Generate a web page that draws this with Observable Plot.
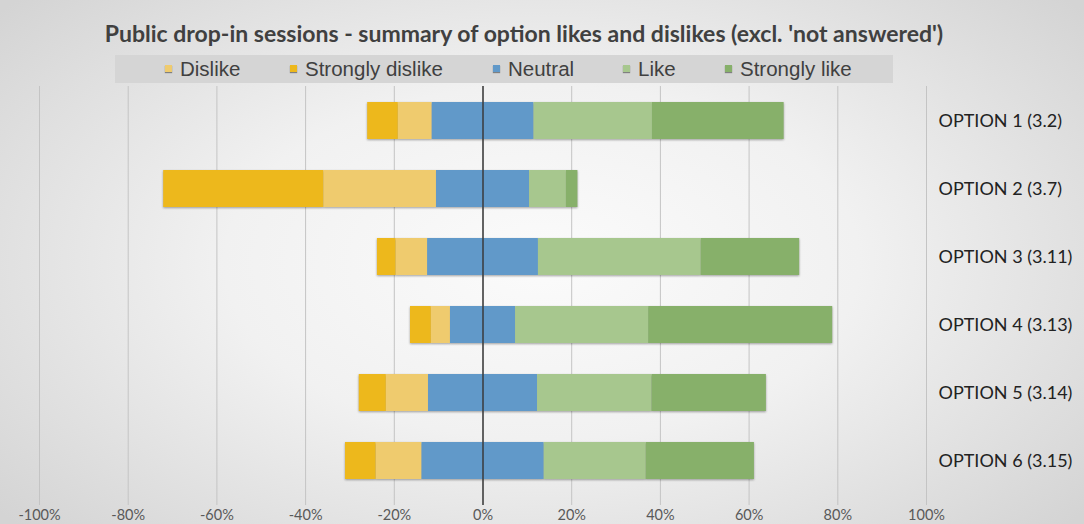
<!DOCTYPE html>
<html>
<head>
<meta charset="utf-8">
<script src="https://cdn.jsdelivr.net/npm/d3@7"></script>
<script src="https://cdn.jsdelivr.net/npm/@observablehq/plot@0.6"></script>
<style>
  html, body { margin: 0; padding: 0; }
  body {
    width: 1084px; height: 524px; position: relative; overflow: hidden;
    background: radial-gradient(ellipse 65% 75% at 50% 50%, #fbfbfb 0%, #f1f1f1 45%, #d4d4d4 100%);
    font-family: "Liberation Sans", Arial, sans-serif;
  }
  #title {
    position: absolute; left: 0; top: 19px; width: 1048px; text-align: center;
    font-family: Lato, "Open Sans", sans-serif; font-weight: bold; font-size: 23px; color: #404040;
    white-space: nowrap;
  }
  #legend {
    position: absolute; left: 115px; top: 55px; width: 778px; height: 28px;
    background: #d5d5d5;
  }
  .item { position: absolute; top: 2px; height: 24px; line-height: 24px; font-family: "Liberation Sans Narrow", "Arial Narrow", sans-serif; font-size: 20.5px; color: #404040; white-space: nowrap; }
  .sw { position: absolute; left: 0; top: 8px; width: 7px; height: 7px; box-shadow: 0 1px 1px rgba(0,0,0,0.4); }
  .lab { position: absolute; left: 15px; top: 0; }
  #chart { position: absolute; left: 0; top: 86px; }
</style>
</head>
<body>
<div id="title"></div>
<div id="legend"></div>
<div id="chart"></div>
<script>
const titleText = "Public drop-in sessions - summary of option likes and dislikes (excl. 'not answered')";
const options = ["OPTION 1 (3.2)", "OPTION 2 (3.7)", "OPTION 3 (3.11)", "OPTION 4 (3.13)", "OPTION 5 (3.14)", "OPTION 6 (3.15)"];
const categories = ["Dislike", "Strongly dislike", "Neutral", "Like", "Strongly like"];
const colors = ["#efcb6e", "#edb81c", "#6199c9", "#a7c78e", "#87b06a"];
const stronglyDislike = [6.9, 36.1, 4.2, 4.7, 6.1, 6.9];
const dislike         = [7.6, 25.4, 7.1, 4.3, 9.5, 10.3];
const neutral         = [23.0, 21.0, 25.0, 14.7, 24.6, 27.6];
const like            = [26.7, 8.3, 36.7, 30.0, 25.8, 23.0];
const stronglyLike    = [29.7, 2.6, 22.2, 41.5, 25.8, 24.4];
const ticks = [-100, -80, -60, -40, -20, 0, 20, 40, 60, 80, 100];

document.getElementById("title").textContent = titleText;

// legend
const legendLeft = [50, 175, 378, 508, 610];
const legend = document.getElementById("legend");
categories.forEach((c, i) => {
  const d = document.createElement("div");
  d.className = "item";
  d.style.left = legendLeft[i] + "px";
  const s = document.createElement("span");
  s.className = "sw"; s.style.background = colors[i];
  const t = document.createElement("span");
  t.className = "lab"; t.textContent = c;
  d.appendChild(s);
  d.appendChild(t);
  legend.appendChild(d);
});

// diverging stack
const rows = [];
options.forEach((o, i) => {
  const h = neutral[i] / 2;
  rows.push({option: o, cat: "Neutral", x1: -h, x2: h});
  rows.push({option: o, cat: "Dislike", x1: -h - dislike[i], x2: -h});
  rows.push({option: o, cat: "Strongly dislike", x1: -h - dislike[i] - stronglyDislike[i], x2: -h - dislike[i]});
  rows.push({option: o, cat: "Like", x1: h, x2: h + like[i]});
  rows.push({option: o, cat: "Strongly like", x1: h + like[i], x2: h + like[i] + stronglyLike[i]});
});

const chart = Plot.plot({
  width: 1084, height: 438,
  marginLeft: 39, marginRight: 158, marginTop: 0, marginBottom: 19,
  style: {background: "transparent", fontFamily: "Lato, 'Open Sans', sans-serif"},
  x: {domain: [-100, 100]},
  y: {domain: options, range: [15, 393], paddingInner: 0.46, paddingOuter: 0},
  color: {domain: categories, range: colors},
  marks: [
    Plot.ruleX(ticks, {stroke: "#c4c4c4", strokeWidth: 1}),
    Plot.barX(rows, {x1: "x1", x2: "x2", y: "option", fill: "cat"}),
    Plot.ruleX([0], {stroke: "#3a3a3a", strokeWidth: 1.5}),
    Plot.axisX({ticks, tickSize: 0, tickPadding: 4, tickFormat: d => d + "%", fontSize: 14.5, fill: "#595959", label: null}),
    Plot.axisY({anchor: "right", tickSize: 0, tickPadding: 12, fontSize: 18, fill: "#222", label: null})
  ]
});
chart.querySelectorAll('g[aria-label="bar"]').forEach(g => g.style.filter = "drop-shadow(0px 1.5px 1px rgba(0,0,0,0.35))");
document.getElementById("chart").appendChild(chart);
</script>
</body>
</html>
